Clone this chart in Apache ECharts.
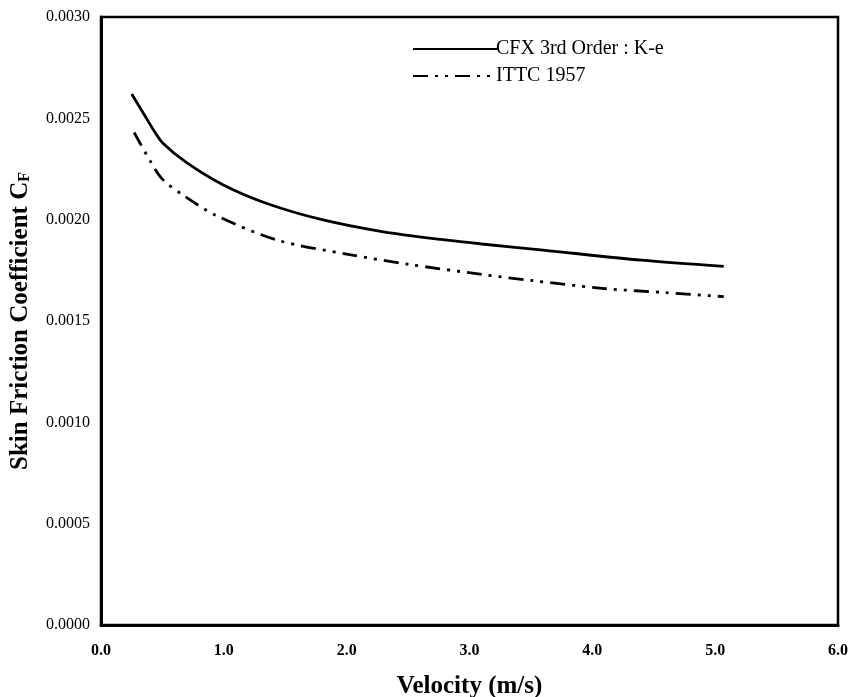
<!DOCTYPE html>
<html>
<head>
<meta charset="utf-8">
<title>Skin friction coefficient vs velocity</title>
<script src="https://cdn.jsdelivr.net/npm/echarts@6/dist/echarts.min.js"></script>
<style>
    html, body { margin: 0; padding: 0; background: #fff; }
    #chart { width: 850px; height: 697px; }
</style>
</head>
<body>
<div id="chart"></div>
<script>
// Data
// ------------------------------

var cfxVelocity = [0.25, 0.35, 0.43, 0.5, 0.7, 1.0, 1.35, 1.8, 2.3, 2.8, 3.1, 3.6, 4.4, 5.07];
var cfxValues = [0.00262, 0.00252, 0.00244, 0.00238, 0.00228, 0.00217, 0.00208, 0.00200, 0.00194, 0.00190, 0.00188, 0.00185, 0.00180, 0.00177];

var ittcVelocity = [0.27, 0.4, 0.5, 0.67, 0.94, 1.43, 2.0, 2.5, 3.1, 3.5, 4.1, 4.6, 5.07];
var ittcValues = [0.00243, 0.00229, 0.00220, 0.00212, 0.00202, 0.00190, 0.00183, 0.00178, 0.00173, 0.00170, 0.00166, 0.00164, 0.00162];

var seriesNames = ['CFX 3rd Order : K-e', 'ITTC 1957'];

var pairs = function(xs, ys) {
    return xs.map(function(x, i) { return [x, ys[i]]; });
};

var serif = '"Liberation Serif", "DejaVu Serif", serif';

// Chart
// ------------------------------

var chart = echarts.init(document.getElementById('chart'));

chart.setOption({
    animation: false,
    color: ['#000', '#000'],
    textStyle: { fontFamily: serif },

    grid: {
        left: 101,
        right: 12,
        top: 17,
        bottom: 72,
        outerBoundsMode: 'none',
        containLabel: false,
        show: true,
        borderColor: '#000',
        borderWidth: 2.5,
        backgroundColor: 'transparent'
    },

    legend: {
        data: seriesNames,
        orient: 'vertical',
        left: 407,
        top: 34,
        itemWidth: 84,
        itemHeight: 14,
        itemGap: 7,
        itemStyle: { opacity: 0 },
        textStyle: {
            fontFamily: serif,
            fontSize: 20,
            color: '#000',
            padding: [0, 0, 0, -6]
        }
    },

    xAxis: {
        type: 'value',
        min: 0,
        max: 6,
        interval: 1,
        name: 'Velocity (m/s)',
        nameLocation: 'middle',
        nameGap: 49,
        nameTextStyle: { fontFamily: serif, fontSize: 25, fontWeight: 'bold', color: '#000' },
        axisLine: { show: true, lineStyle: { color: '#000', width: 3 } },
        axisTick: { show: false },
        splitLine: { show: false },
        axisLabel: {
            fontFamily: serif,
            fontSize: 16,
            fontWeight: 'bold',
            color: '#000',
            margin: 18,
            formatter: function(v) { return v.toFixed(1); }
        }
    },

    yAxis: {
        type: 'value',
        min: 0,
        max: 0.003,
        interval: 0.0005,
        name: '{main|Skin Friction Coefficient C}{sub|F}',
        nameLocation: 'middle',
        nameRotate: 90,
        nameGap: 68,
        nameTextStyle: {
            rich: {
                main: { fontFamily: serif, fontSize: 25, fontWeight: 'bold', color: '#000' },
                sub: { fontFamily: serif, fontSize: 16, fontWeight: 'bold', color: '#000', padding: [9, 0, 0, 0] }
            }
        },
        axisLine: { show: true, lineStyle: { color: '#000', width: 3 } },
        axisTick: { show: false },
        splitLine: { show: false },
        axisLabel: {
            fontFamily: serif,
            fontSize: 16,
            color: '#000',
            margin: 11,
            formatter: function(v) { return v.toFixed(4); }
        }
    },

    series: [
        {
            name: seriesNames[0],
            type: 'line',
            data: pairs(cfxVelocity, cfxValues),
            smooth: 0.3,
            symbol: 'none',
            lineStyle: { color: '#000', width: 2.8, type: 'solid' }
        },
        {
            name: seriesNames[1],
            type: 'line',
            data: pairs(ittcVelocity, ittcValues),
            smooth: 0.3,
            symbol: 'none',
            lineStyle: { color: '#000', width: 2.8, type: [15, 7, 3, 7, 3, 7] }
        }
    ]
});
</script>
</body>
</html>
